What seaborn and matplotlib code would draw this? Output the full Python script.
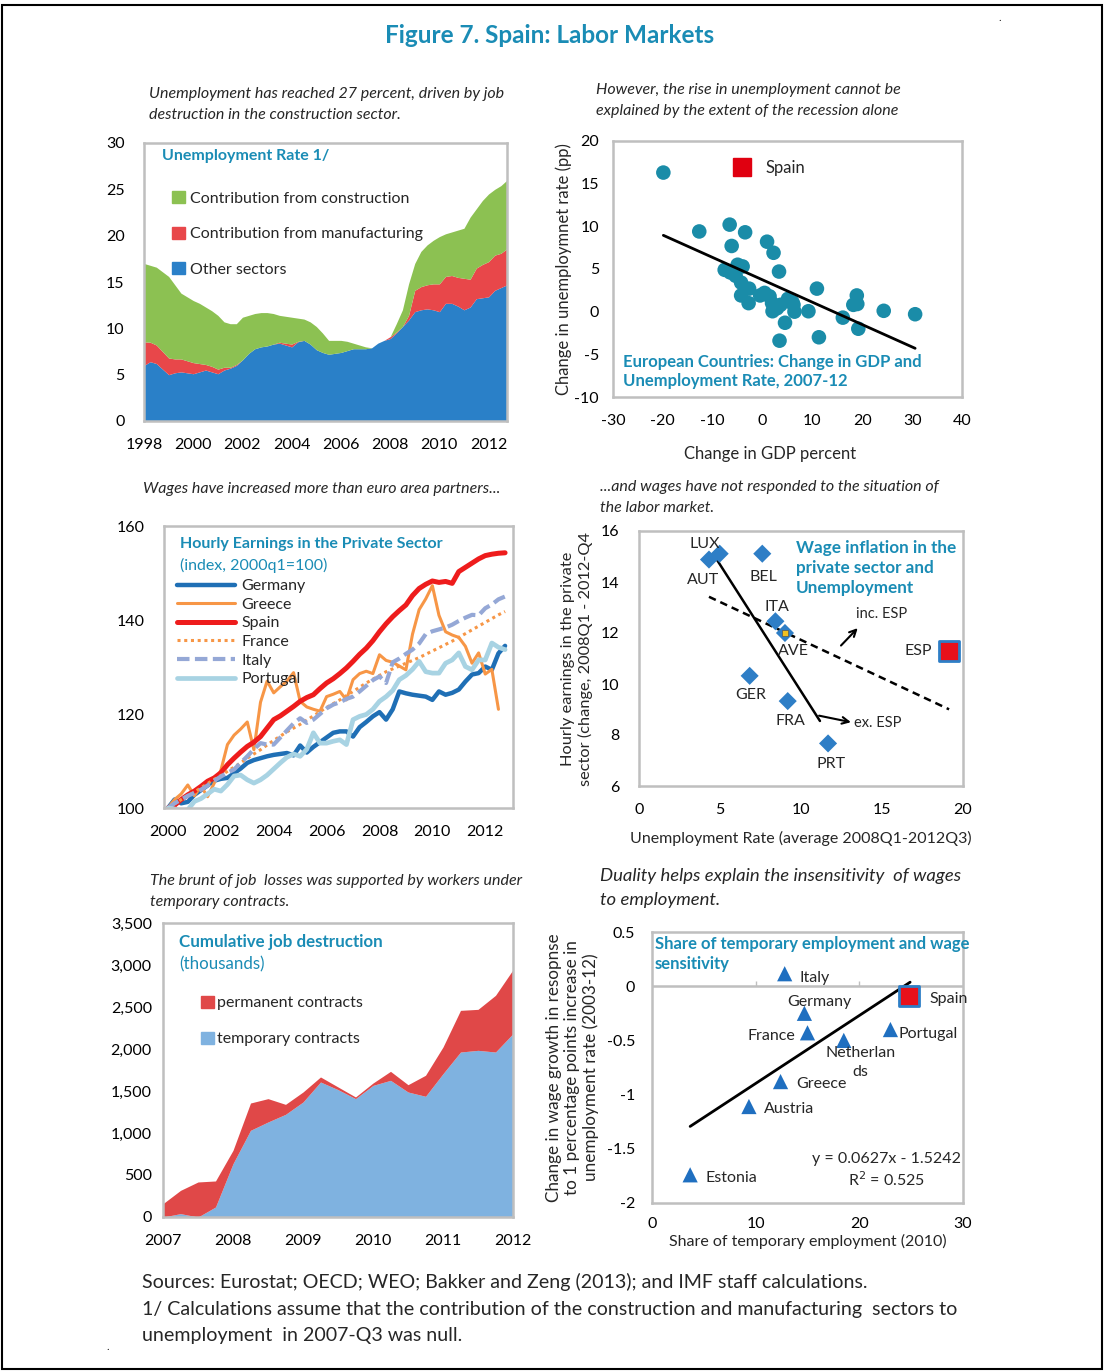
import matplotlib
matplotlib.use("Agg")
import matplotlib.pyplot as plt
import matplotlib.ticker as mticker
from matplotlib.lines import Line2D
from matplotlib.patches import Patch, Rectangle
import numpy as np
import pandas as pd
import seaborn as sns

sns.set_theme(style="white")
plt.rcParams["font.family"] = ["Lato", "DejaVu Sans"]
plt.rcParams["axes.unicode_minus"] = False

TEAL = "#1a8cb5"
FRAME = "#bfbfbf"

# ---------------- data ----------------
# panel 1: unemployment rate, quarterly 1998q1-2012q4 (stack tops, percent)
unemp_quarters = pd.period_range("1998Q1", "2012Q4", freq="Q")
other_top = [6.0, 6.4, 6.2, 5.6, 5.0, 5.2, 5.3, 5.2, 5.1, 5.3, 5.5, 5.3,
             5.1, 5.5, 5.7, 6.0, 6.6, 7.3, 7.8, 8.0, 8.1, 8.3, 8.4, 8.2,
             8.0, 8.55, 8.7, 8.3, 7.7, 7.4, 7.2, 7.3, 7.4, 7.6, 7.8, 7.8,
             7.8, 7.9, 8.4, 8.7, 8.9, 9.5, 10.2, 10.9, 11.8, 12.0, 12.1, 12.0,
             11.8, 12.7, 12.7, 12.4, 12.0, 12.3, 13.2, 13.3, 13.4, 14.1, 14.4, 14.7]
manuf_top = [8.55, 8.5, 8.2, 7.5, 6.8, 6.7, 6.7, 6.5, 6.3, 6.2, 6.1, 5.9,
             5.6, 5.8, 5.8, 6.1, 6.6, 7.3, 7.8, 8.0, 8.1, 8.3, 8.5, 8.4,
             8.3, 8.6, 8.7, 8.3, 7.7, 7.4, 7.2, 7.3, 7.4, 7.6, 7.8, 7.8,
             7.8, 7.9, 8.4, 8.7, 9.1, 9.6, 10.2, 11.4, 14.1, 14.5, 14.7, 14.8,
             14.8, 15.6, 15.7, 15.5, 15.4, 15.3, 16.5, 16.9, 17.2, 17.9, 18.1, 18.6]
total_unemp = [17.0, 16.8, 16.6, 16.1, 15.6, 14.7, 13.8, 13.4, 13.0, 12.7, 12.3, 11.9,
               11.4, 10.7, 10.5, 10.5, 11.2, 11.4, 11.6, 11.7, 11.7, 11.6, 11.4, 11.3,
               11.2, 11.1, 11.0, 10.7, 10.2, 9.5, 8.7, 8.7, 8.7, 8.6, 8.4, 8.2,
               8.0, 7.9, 8.4, 8.7, 9.1, 10.5, 12.0, 14.8, 17.0, 18.3, 19.0, 19.5,
               19.9, 20.2, 20.4, 20.6, 20.8, 22.0, 22.9, 23.8, 24.5, 25.0, 25.4, 26.0]

# panel 2: European countries, change 2007-12
gdp_change = [-19.9, -12.7, -6.6, -6.2, -3.5, 0.9, 2.2, -7.6, -6.5, -5.0, -4.0, -5.4,
              -4.3, -2.7, -4.3, -2.8, 3.3, -0.5, 0.4, 1.4, 1.9, 2.0, 2.9, 3.6,
              5.1, 6.2, 6.4, 4.5, 3.4, 9.2, 10.9, 11.3, 16.1, 18.2, 18.9, 19.0,
              19.2, 24.3, 30.6, 6.0]
unemp_change = [16.3, 9.4, 10.2, 7.7, 9.3, 8.2, 6.9, 4.9, 4.6, 5.5, 5.3, 4.2,
                3.4, 2.7, 1.9, 1.0, 4.7, 1.9, 2.2, 1.8, 1.0, 0.05, 0.4, 0.8,
                1.5, 0.8, 0.0, -1.3, -3.4, 0.05, 2.7, -3.0, -0.7, 0.8, 1.9, 0.9,
                -2.0, 0.1, -0.3, 1.1]

# panel 3: hourly earnings, 2000q1 = 100
earn_quarters = pd.period_range("2000Q1", "2012Q4", freq="Q")
earnings = {
    "Germany": [100.0, 101.8, 101.0, 101.3, 102.8, 103.8, 104.8, 105.8, 106.2, 106.4,
                107.4, 108.4, 109.6, 110.2, 110.6, 111.0, 111.3, 111.5, 111.7, 111.2,
                113.3, 111.8, 113.0, 114.0, 115.0, 116.0, 116.3, 116.3, 115.2, 117.2,
                118.3, 119.5, 120.4, 118.8, 121.0, 124.8, 124.4, 124.1, 123.9, 123.7,
                123.0, 124.8, 124.1, 124.5, 125.2, 126.9, 128.4, 128.7, 130.1, 129.4,
                132.9, 134.5],
    "Greece": [100.0, 101.8, 103.0, 104.9, 102.6, 104.6, 102.4, 105.3, 108.0, 113.5,
               115.5, 116.8, 118.3, 112.4, 122.5, 127.0, 124.5, 125.8, 127.0, 128.8,
               122.7, 121.5, 121.0, 120.6, 123.7, 124.2, 124.8, 123.0, 127.3, 128.6,
               129.1, 128.6, 132.6, 131.4, 131.0, 130.2, 129.4, 137.0, 142.2, 144.5,
               147.3, 141.0, 137.5, 136.8, 136.3, 134.4, 130.8, 133.0, 128.5, 129.5,
               121.0, np.nan],
    "Spain": [100.0, 100.6, 101.8, 102.8, 103.6, 104.6, 105.7, 106.4, 107.5, 109.2,
              110.6, 111.9, 113.1, 114.0, 115.2, 117.0, 118.8, 119.6, 120.6, 121.6,
              122.7, 123.5, 124.1, 125.4, 126.6, 127.5, 128.6, 129.8, 131.2, 132.7,
              134.0, 135.6, 137.5, 139.2, 140.7, 142.0, 143.2, 145.2, 146.7, 147.6,
              148.3, 148.0, 148.2, 147.8, 150.3, 151.2, 152.1, 153.0, 153.7, 154.0,
              154.2, 154.3],
    "France": [100.0, 100.9, 101.8, 102.6, 103.4, 104.3, 105.2, 106.1, 106.9, 107.8,
               108.7, 109.6, 110.6, 111.5, 112.4, 113.4, 114.4, 115.3, 116.2, 117.0,
               117.8, 118.7, 119.6, 120.5, 121.4, 122.2, 123.0, 123.9, 124.8, 125.7,
               126.6, 127.4, 128.2, 129.0, 129.6, 130.2, 130.8, 131.4, 132.0, 132.7,
               133.4, 134.1, 134.8, 135.5, 136.3, 137.1, 137.9, 138.7, 139.5, 140.3,
               141.1, 141.8],
    "Italy": [100.0, 101.0, 101.8, 102.6, 103.2, 103.9, 104.8, 105.8, 106.7, 107.5,
              108.2, 109.6, 111.0, 112.5, 113.8, 113.5, 113.5, 115.0, 116.5, 118.0,
              119.1, 118.1, 118.8, 120.0, 121.2, 122.0, 122.5, 123.2, 123.7, 124.8,
              126.0, 127.2, 128.0, 126.6, 131.0, 131.8, 132.8, 133.7, 135.0, 137.0,
              137.6, 138.0, 138.4, 139.0, 139.8, 140.5, 141.1, 141.0, 142.5, 143.3,
              144.4, 145.0],
    "Portugal": [100.0, 99.8, 99.4, 99.6, 101.4, 102.0, 103.0, 104.0, 103.6, 105.0,
                 106.8, 107.0, 106.0, 105.3, 106.0, 107.0, 108.3, 109.6, 110.8, 111.5,
                 111.0, 112.5, 116.0, 113.8, 113.8, 114.2, 114.5, 113.5, 118.8, 119.5,
                 119.9, 121.0, 122.7, 123.7, 125.0, 127.3, 128.2, 129.5, 131.2, 129.0,
                 128.7, 128.7, 130.8, 131.5, 133.0, 130.1, 129.4, 131.5, 131.5, 135.1,
                 134.2, 133.7],
}

# panel 4: wage inflation vs unemployment
wage_ctry = ["LUX", "AUT", "BEL", "ITA", "GER", "FRA", "PRT", "ESP"]
wage_unemp = [4.98, 4.32, 7.61, 8.42, 6.83, 9.18, 11.67, 19.14]
wage_growth = [15.11, 14.88, 15.11, 12.46, 10.32, 9.33, 7.67, 11.29]
ave_unemp, ave_growth = 9.01, 12.0

# panel 5: cumulative job destruction (thousands), quarterly 2007q1-2012q1
jobs_quarters = pd.period_range("2007Q1", "2012Q1", freq="Q")
temporary_jobs = [0, 40, 0, 119, 635, 1032, 1131, 1222, 1369, 1607, 1516, 1409,
                  1567, 1627, 1488, 1437, 1706, 1964, 1984, 1964, 2183]
total_jobs = [159, 317, 417, 429, 794, 1357, 1409, 1341, 1488, 1667, 1548, 1429,
              1595, 1734, 1575, 1687, 2024, 2460, 2472, 2639, 2944]

# panel 6: temporary employment and wage sensitivity
temp_ctry = ["Italy", "Germany", "France", "Netherlan\nds", "Portugal",
             "Greece", "Austria", "Estonia"]
temp_share = [12.8, 14.7, 15.0, 18.5, 23.0, 12.4, 9.35, 3.68]
wage_sens = [0.115, -0.25, -0.43, -0.50, -0.40, -0.88, -1.11, -1.74]
spain_share, spain_sens = 24.8, -0.09
fit_slope, fit_const, fit_r2 = 0.0627, -1.5242, 0.525

# ---------------- figure ----------------
W, H = 1106, 1372
fig = plt.figure(figsize=(W / 100, H / 100), dpi=100)
fig.patches.append(Rectangle((0.002, 0.002), 0.994, 0.994, transform=fig.transFigure,
                             fill=False, edgecolor="black", linewidth=1.5))


def add_ax(l, t, r, b):
    ax = fig.add_axes([l / W, 1 - b / H, (r - l) / W, (b - t) / H])
    for s in ax.spines.values():
        s.set_color(FRAME)
        s.set_linewidth(1.8)
    ax.tick_params(direction="in", length=4, width=1, color=FRAME,
                   labelsize=11.5, labelcolor="black")
    ax.tick_params(axis="x", pad=12)
    ax.grid(False)
    return ax


def qyear(q):
    return np.array([p.year + (p.quarter - 1) / 4 for p in q])


fig.text(0.497, 0.974, "Figure 7. Spain: Labor Markets", ha="center", va="center",
         fontsize=17.5, fontweight="bold", color=TEAL)
fig.text(0.903, 0.985, ".", fontsize=8)

cap = dict(fontsize=11.5, style="italic", va="top", ha="left", linespacing=1.6)
fig.text(149 / W, 1 - 87 / H, "Unemployment has reached 27 percent, driven by job\n"
         "destruction in the construction sector.", **cap)
fig.text(596 / W, 1 - 83 / H, "However, the rise in unemployment cannot be\n"
         "explained by the extent of the recession alone", **cap)
fig.text(143 / W, 1 - 482 / H, "Wages have increased more than euro area partners...", **cap)
fig.text(600 / W, 1 - 480 / H, "...and wages have not responded to the situation of\n"
         "the labor market.", **cap)
fig.text(150 / W, 1 - 874 / H, "The brunt of job  losses was supported by workers under\n"
         "temporary contracts.", **cap)
fig.text(600 / W, 1 - 868 / H, "Duality helps explain the insensitivity  of wages\n"
         "to employment.", fontsize=13.3, style="italic", va="top", ha="left",
         linespacing=1.65)

# ---- panel 1
ax1 = add_ax(144, 143, 507, 421)
x1 = qyear(unemp_quarters)
ax1.fill_between(x1, 0, other_top, color="#2a80c8", linewidth=0)
ax1.fill_between(x1, other_top, manuf_top, color="#e8474a", linewidth=0)
ax1.fill_between(x1, manuf_top, total_unemp, color="#8cc152", linewidth=0)
ax1.set_xlim(1998, 2012.75)
ax1.set_ylim(0, 30)
ax1.set_xticks(range(1998, 2013, 2))
ax1.set_yticks(range(0, 31, 5))
ax1.tick_params(axis="y", pad=14)
ax1.text(0.05, 0.955, "Unemployment Rate 1/", transform=ax1.transAxes, color=TEAL,
         fontsize=11.5, fontweight="bold", va="center")
h1 = [Patch(color="#8cc152", label="Contribution from construction"),
      Patch(color="#e8474a", label="Contribution from manufacturing"),
      Patch(color="#2a80c8", label="Other sectors")]
ax1.legend(handles=h1, loc="upper left", bbox_to_anchor=(0.06, 0.85), frameon=False,
           fontsize=11.5, handlelength=0.8, handleheight=0.8, handletextpad=0.3,
           labelspacing=1.3, borderaxespad=0)

# ---- panel 2
ax2 = add_ax(613, 141, 962, 397)
sns.scatterplot(x=gdp_change, y=unemp_change, ax=ax2, color="#1a8ca8", s=110,
                edgecolor="none", zorder=3)
b2, a2 = np.polyfit(gdp_change, unemp_change, 1)
xx2 = np.array([min(gdp_change), max(gdp_change)])
ax2.plot(xx2, a2 + b2 * xx2, color="black", linewidth=2, zorder=4)
ax2.set_xlim(-30, 40)
ax2.set_ylim(-10, 20)
ax2.set_xticks(range(-30, 41, 10))
ax2.set_yticks(range(-10, 21, 5))
ax2.tick_params(axis="y", pad=10)
ax2.set_xlabel("Change in GDP percent", fontsize=12, labelpad=10)
ax2.xaxis.set_label_coords(0.45, -0.19)
ax2.set_ylabel("Change in unemploymnet rate (pp)", fontsize=12, labelpad=2)
ax2.legend(handles=[Line2D([], [], marker="s", linestyle="none", color="#e00010",
                           markersize=13, label="Spain")],
           loc="center left", bbox_to_anchor=(0.28, 0.895), frameon=False,
           fontsize=12, handletextpad=0.4)
ax2.text(0.028, 0.03, "European Countries: Change in GDP and\nUnemployment Rate, 2007-12",
         transform=ax2.transAxes, color=TEAL, fontsize=12, fontweight="bold",
         va="bottom", linespacing=1.25)

# ---- panel 3
ax3 = add_ax(164, 526, 513, 808)
x3 = qyear(earn_quarters)
styles = {
    "Germany": dict(color="#1f6fb5", linewidth=3.2),
    "Greece": dict(color="#f79646", linewidth=2.2),
    "Spain": dict(color="#ee1c1c", linewidth=3.6),
    "France": dict(color="#f79646", linewidth=2.2, linestyle=(0, (1, 1.2))),
    "Italy": dict(color="#95a8d6", linewidth=3.0, linestyle=(0, (3, 1.3))),
    "Portugal": dict(color="#a8d3e3", linewidth=3.4),
}
for name, vals in earnings.items():
    sns.lineplot(x=x3, y=vals, ax=ax3, label=name, **styles[name])
ax3.set_xlim(1999.85, 2013.05)
ax3.set_ylim(100, 160)
ax3.set_xticks(range(2000, 2013, 2))
ax3.set_yticks(range(100, 161, 20))
ax3.tick_params(axis="y", pad=14)
ax3.text(0.045, 0.935, "Hourly Earnings in the Private Sector", transform=ax3.transAxes,
         color=TEAL, fontsize=11.5, fontweight="bold", va="center")
ax3.text(0.045, 0.86, "(index, 2000q1=100)", transform=ax3.transAxes,
         color=TEAL, fontsize=11.5, va="center")
ax3.legend(loc="upper left", bbox_to_anchor=(0.02, 0.835), frameon=False, fontsize=11.5,
           handlelength=3.6, handletextpad=0.4, labelspacing=0.28, borderaxespad=0)

# ---- panel 4
ax4 = add_ax(639, 531, 963, 786)
for idx, style in [(slice(0, 7), "-"), (slice(0, 8), "--")]:
    xs = np.array(wage_unemp[idx])
    ys = np.array(wage_growth[idx])
    b4, a4 = np.polyfit(xs, ys, 1)
    xx4 = np.array([xs.min(), xs.max()])
    if style == "-":
        xx4 = np.array([xs[0] - 0.25, xs.max() - 0.5])
    ax4.plot(xx4, a4 + b4 * xx4, color="black", linewidth=1.8, linestyle=style,
             dashes=(3, 2) if style == "--" else (None, None), zorder=2)
sns.scatterplot(x=wage_unemp[:7] + [ave_unemp], y=wage_growth[:7] + [ave_growth], ax=ax4,
                marker="D", color="#2e7ec6", s=85, edgecolor="none", zorder=3)
ax4.scatter([ave_unemp], [ave_growth], marker="s", s=14, color="#f0c020",
            edgecolor="#555555", linewidth=0.5, zorder=4)
ax4.scatter([wage_unemp[7]], [wage_growth[7]], marker="s", s=190, color="#e8101a",
            edgecolor="#2e7ec6", linewidth=2, zorder=4)
lab4 = {"LUX": (-11, 7), "AUT": (-4, -15), "BEL": (1, -17), "ITA": (1, 10),
        "GER": (1, -14), "FRA": (2, -14), "PRT": (2, -15), "ESP": (-22, 0)}
for c, xv, yv in zip(wage_ctry, wage_unemp, wage_growth):
    ax4.annotate(c, (xv, yv), xytext=lab4[c], textcoords="offset points",
                 ha="center", va="center", fontsize=11.5)
ax4.annotate("AVE", (ave_unemp, ave_growth), xytext=(6, -13), textcoords="offset points",
             ha="center", va="center", fontsize=11.5)
ax4.annotate("", xy=(13.62, 12.27), xytext=(12.35, 11.43),
             arrowprops=dict(arrowstyle="->", color="black", lw=1.5))
ax4.text(13.4, 12.75, "inc. ESP", fontsize=10.5, va="center")
ax4.annotate("", xy=(13.25, 8.48), xytext=(10.95, 8.78),
             arrowprops=dict(arrowstyle="->", color="black", lw=1.5))
ax4.text(13.3, 8.46, "ex. ESP", fontsize=10.5, va="center")
ax4.text(0.485, 0.965, "Wage inflation in the\nprivate sector and\nUnemployment",
         transform=ax4.transAxes, color=TEAL, fontsize=12.3, fontweight="bold",
         va="top", linespacing=1.3)
ax4.set_xlim(0, 20)
ax4.set_ylim(6, 16)
ax4.set_xticks(range(0, 21, 5))
ax4.set_yticks(range(6, 17, 2))
ax4.tick_params(axis="y", pad=14)
ax4.set_xlabel("Unemployment Rate (average 2008Q1-2012Q3)", fontsize=11.5, labelpad=10)
ax4.set_ylabel("Hourly earnings in the private\nsector (change, 2008Q1 - 2012-Q4",
               fontsize=11.8, labelpad=6, linespacing=1.25)

# ---- panel 5
ax5 = add_ax(163, 923, 513, 1217)
x5 = qyear(jobs_quarters)
permanent_jobs = np.array(total_jobs) - np.array(temporary_jobs)
ax5.stackplot(x5, temporary_jobs, permanent_jobs, colors=["#7fb2e0", "#e04848"],
              linewidth=0)
ax5.set_xlim(2007, 2012)
ax5.set_ylim(0, 3500)
ax5.set_yticks(range(0, 3501, 500))
ax5.yaxis.set_major_formatter(mticker.FuncFormatter(lambda v, p: f"{int(v):,}"))
ax5.tick_params(axis="y", pad=8)
ax5.text(0.045, 0.935, "Cumulative job destruction", transform=ax5.transAxes,
         color=TEAL, fontsize=12.2, fontweight="bold", va="center")
ax5.text(0.045, 0.86, "(thousands)", transform=ax5.transAxes,
         color=TEAL, fontsize=12.2, va="center")
h5 = [Patch(color="#e04848", label="permanent contracts"),
      Patch(color="#7fb2e0", label="temporary contracts")]
ax5.legend(handles=h5, loc="upper left", bbox_to_anchor=(0.09, 0.775), frameon=False,
           fontsize=11.5, handlelength=0.8, handleheight=0.8, handletextpad=0.2,
           labelspacing=1.35, borderaxespad=0)

# ---- panel 6
ax6 = add_ax(652, 932, 963, 1203)
ax6.axhline(0, color=FRAME, linewidth=1.8, zorder=1)
ax6.vlines([10, 20], 0, 0.05, color=FRAME, linewidth=1, zorder=1)
xx6 = np.array([min(temp_share), spain_share + 0.1])
ax6.plot(xx6, fit_const + fit_slope * xx6, color="black", linewidth=2, zorder=2)
sns.scatterplot(x=temp_share, y=wage_sens, ax=ax6, marker="^", color="#1f6fc0", s=120,
                edgecolor="none", zorder=3)
ax6.scatter([spain_share], [spain_sens], marker="s", s=190, color="#e8101a",
            edgecolor="#2e7ec6", linewidth=2, zorder=4)
lab6 = {"Italy": (11, -3, "left", "center"), "Germany": (11, 8, "center", "center"),
        "France": (-9, -2, "right", "center"), "Netherlan\nds": (12, -4, "center", "top"),
        "Portugal": (6, -3, "left", "center"), "Greece": (11, -2, "left", "center"),
        "Austria": (11, -2, "left", "center"), "Estonia": (11, -2, "left", "center")}
for c, xv, yv in zip(temp_ctry, temp_share, wage_sens):
    dx, dy, ha, va = lab6[c]
    ax6.annotate(c, (xv, yv), xytext=(dx, dy), textcoords="offset points",
                 ha=ha, va=va, fontsize=11.5, linespacing=1.5)
ax6.annotate("Spain", (spain_share, spain_sens), xytext=(15, -2), textcoords="offset points",
             ha="left", va="center", fontsize=11.5)
ax6.text(22.6, -1.7, f"y = {fit_slope}x - {abs(fit_const)}\nR$^2$ = {fit_r2}",
         ha="center", va="center", fontsize=11.5, linespacing=1.3)
ax6.text(0.01, 0.985, "Share of temporary employment and wage\nsensitivity",
         transform=ax6.transAxes, color=TEAL, fontsize=12, fontweight="bold",
         va="top", linespacing=1.3, clip_on=False)
ax6.set_xlim(0, 30)
ax6.set_ylim(-2, 0.5)
ax6.set_xticks(range(0, 31, 10))
ax6.set_yticks([0.5, 0, -0.5, -1, -1.5, -2])
ax6.yaxis.set_major_formatter(mticker.FuncFormatter(lambda v, p: f"{v:g}"))
ax6.tick_params(axis="y", pad=12, length=0)
ax6.tick_params(axis="x", length=0, pad=10)
ax6.set_xlabel("Share of temporary employment (2010)", fontsize=11.5, labelpad=2)
ax6.set_ylabel("Change in wage growth in resopnse\nto 1 percentage points increase in\n"
               "unemployment rate (2003-12)", fontsize=12.3, labelpad=6, linespacing=1.15)

# ---- footer
foot = dict(fontsize=14.1, ha="left", va="center")
fig.text(142 / W, 1 - 1282 / H,
         "Sources: Eurostat; OECD; WEO; Bakker and Zeng (2013); and IMF staff calculations.", **foot)
fig.text(142 / W, 1 - 1309 / H,
         "1/ Calculations assume that the contribution of the construction and manufacturing  "
         "sectors to", **foot)
fig.text(142 / W, 1 - 1335 / H, "unemployment  in 2007-Q3 was null.", **foot)
fig.text(106 / W, 1 - 1350 / H, ".", fontsize=8)

fig.savefig("out.png", dpi=100)
